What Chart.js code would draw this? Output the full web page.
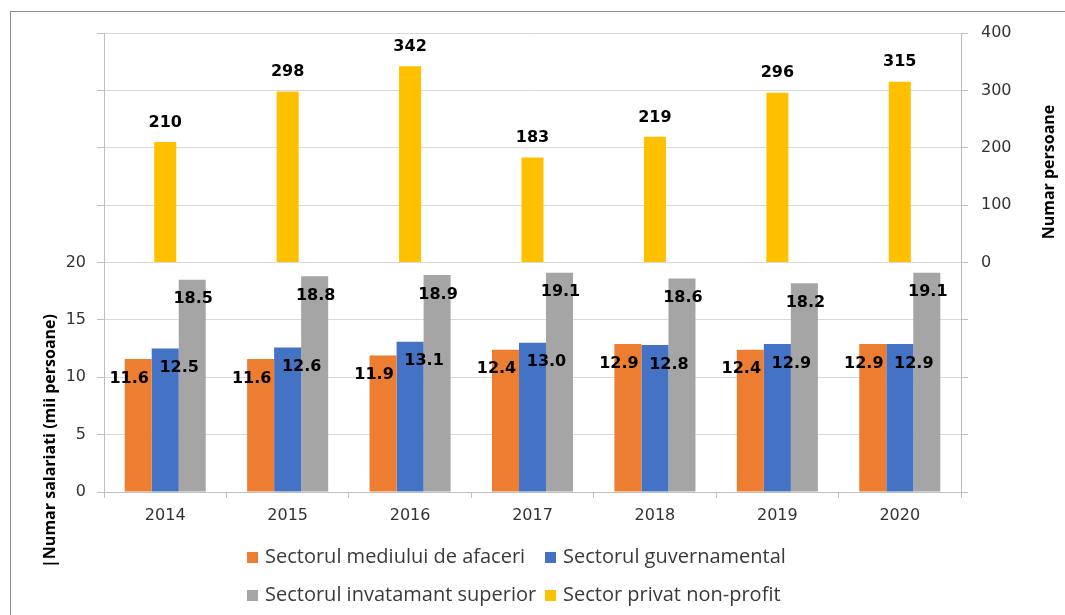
<!DOCTYPE html>
<html>
<head>
<meta charset="utf-8">
<script src="https://cdn.jsdelivr.net/npm/chart.js@4.4.0/dist/chart.umd.min.js"></script>
<style>
  html, body { margin: 0; padding: 0; background: #ffffff; }
  #wrap { position: relative; width: 1065px; height: 615px; overflow: hidden; background: #ffffff; }
  #frame { position: absolute; left: 10px; top: 11px; width: 1200px; height: 800px;
           border-left: 1px solid #8c8c8c; border-top: 1px solid #8c8c8c; }
  #c { position: absolute; left: 0; top: 0; }
  #legend { position: absolute; left: 0; top: 0; width: 1065px; height: 615px;
            font-family: "Open Sans", sans-serif; font-size: 20px; color: #3a3a3a; }
  .item { position: absolute; white-space: nowrap; height: 24px; line-height: 24px; }
  .box { display: inline-block; width: 11px; height: 11px; margin-right: 7px; vertical-align: 0px; }
</style>
</head>
<body>
<div id="wrap">
  <div id="frame"></div>
  <canvas id="c" width="1065" height="615"></canvas>
  <div id="legend"></div>
</div>
<script>
// ---- data ----
const years = ['2014', '2015', '2016', '2017', '2018', '2019', '2020'];
const seriesNames = [
  'Sectorul mediului de afaceri',
  'Sectorul guvernamental',
  'Sectorul invatamant superior',
  'Sector privat non-profit'
];
const businessSector = [11.6, 11.6, 11.9, 12.4, 12.9, 12.4, 12.9];
const governmentSector = [12.5, 12.6, 13.1, 13.0, 12.8, 12.9, 12.9];
const higherEducationSector = [18.5, 18.8, 18.9, 19.1, 18.6, 18.2, 19.1];
const privateNonProfit = [210, 298, 342, 183, 219, 296, 315];
const leftTicks = [0, 5, 10, 15, 20];
const rightTicks = [0, 100, 200, 300, 400];
const leftTitle = '|Numar salariati (mii persoane)';
const rightTitle = 'Numar persoane';

// ---- styles ----
const colors = ['#ED7D31', '#4472C4', '#A5A5A5', '#FFC000'];
const gridColor = '#d9d9d9';
const axisColor = '#bfbfbf';
const tickFont = { family: '"DejaVu Sans", Verdana, sans-serif', size: 16 };
const tickColor = '#333333';

const valueLabels = {
  id: 'valueLabels',
  afterDatasetsDraw(chart) {
    const ctx = chart.ctx;
    ctx.save();
    ctx.font = 'bold 16px "DejaVu Sans", Verdana, sans-serif';
    ctx.fillStyle = '#000000';
    ctx.textAlign = 'center';
    ctx.textBaseline = 'middle';
    chart.data.datasets.forEach((ds, i) => {
      const meta = chart.getDatasetMeta(i);
      const off = ds.labelOffset;
      meta.data.forEach((bar, j) => {
        const v = ds.data[j];
        const txt = ds.yAxisID === 'y2' ? String(v) : v.toFixed(1);
        ctx.fillText(txt, bar.x + off.dx, bar.y + off.dy);
      });
    });
    ctx.restore();
  }
};

const axisTitles = {
  id: 'axisTitles',
  afterDraw(chart) {
    const ctx = chart.ctx;
    ctx.save();
    ctx.font = 'bold 16px "Open Sans", sans-serif';
    ctx.fillStyle = '#000000';
    ctx.textAlign = 'center';
    ctx.textBaseline = 'middle';
    [[leftTitle, 50, 441], [rightTitle, 1049, 172]].forEach(([t, x, y]) => {
      ctx.save();
      ctx.translate(x, y);
      ctx.rotate(-Math.PI / 2);
      ctx.fillText(t, 0, 0);
      ctx.restore();
    });
    ctx.restore();
  }
};

const fixWidth = s => { s.width = 104; };

const chart = new Chart(document.getElementById('c'), {
  type: 'bar',
  data: {
    labels: years,
    datasets: [
      { label: seriesNames[0], data: businessSector, backgroundColor: colors[0], yAxisID: 'y',
        categoryPercentage: 0.662, barPercentage: 1.0, labelOffset: { dx: -9, dy: 19.5 } },
      { label: seriesNames[1], data: governmentSector, backgroundColor: colors[1], yAxisID: 'y',
        categoryPercentage: 0.662, barPercentage: 1.0, labelOffset: { dx: 14, dy: 19.5 } },
      { label: seriesNames[2], data: higherEducationSector, backgroundColor: colors[2], yAxisID: 'y',
        categoryPercentage: 0.662, barPercentage: 1.0, labelOffset: { dx: 1, dy: 19.5 } },
      { label: seriesNames[3], data: privateNonProfit, backgroundColor: colors[3], yAxisID: 'y2',
        grouped: false, categoryPercentage: 0.18, barPercentage: 1.0, labelOffset: { dx: 0, dy: -19.5 } }
    ]
  },
  options: {
    responsive: false,
    animation: false,
    devicePixelRatio: 1,
    layout: { padding: { top: 33, left: 0, right: 0, bottom: 0 } },
    plugins: { legend: { display: false }, tooltip: { enabled: false } },
    scales: {
      x: {
        offset: true,
        grid: { offset: true, drawOnChartArea: false, drawTicks: true, tickLength: 6, color: axisColor },
        border: { color: axisColor },
        ticks: { color: tickColor, font: tickFont, padding: 8, maxRotation: 0 },
        afterFit: s => { s.height = 123; }
      },
      y: {
        position: 'left', stack: 'L', stackWeight: 1, weight: 1,
        min: 0, max: 20,
        afterBuildTicks: s => { s.ticks = leftTicks.map(v => ({ value: v })); },
        grid: { color: gridColor, tickColor: axisColor, tickLength: 7 },
        border: { color: axisColor },
        ticks: { color: tickColor, font: tickFont, padding: 11 },
        afterFit: fixWidth
      },
      yLT: {
        position: 'left', stack: 'L', stackWeight: 1, weight: 2,
        min: 0, max: 400,
        afterBuildTicks: s => { s.ticks = rightTicks.map(v => ({ value: v })); },
        grid: { drawOnChartArea: false, tickColor: axisColor, tickLength: 7 },
        border: { color: axisColor },
        ticks: { display: false },
        afterFit: fixWidth
      },
      y2: {
        position: 'right', stack: 'R', stackWeight: 1, weight: 1,
        min: 0, max: 400,
        afterBuildTicks: s => { s.ticks = rightTicks.map(v => ({ value: v })); },
        grid: { color: gridColor, tickColor: axisColor, tickLength: 7 },
        border: { color: axisColor },
        ticks: { color: tickColor, font: tickFont, padding: 13 },
        afterFit: fixWidth
      },
      yRB: {
        position: 'right', stack: 'R', stackWeight: 1, weight: 2,
        min: 0, max: 20,
        afterBuildTicks: s => { s.ticks = leftTicks.map(v => ({ value: v })); },
        grid: { drawOnChartArea: false, tickColor: axisColor, tickLength: 7 },
        border: { color: axisColor },
        ticks: { display: false },
        afterFit: fixWidth
      }
    }
  },
  plugins: [valueLabels, axisTitles]
});

// ---- HTML legend (two rows, two columns) ----
const legend = document.getElementById('legend');
const legendCols = [247, 545];
const legendRows = [544, 582];
chart.data.datasets.forEach((ds, i) => {
  const el = document.createElement('div');
  el.className = 'item';
  el.style.left = legendCols[i % 2] + 'px';
  el.style.top = legendRows[Math.floor(i / 2)] + 'px';
  const box = document.createElement('span');
  box.className = 'box';
  box.style.background = ds.backgroundColor;
  el.appendChild(box);
  el.appendChild(document.createTextNode(ds.label));
  legend.appendChild(el);
});
</script>
</body>
</html>
